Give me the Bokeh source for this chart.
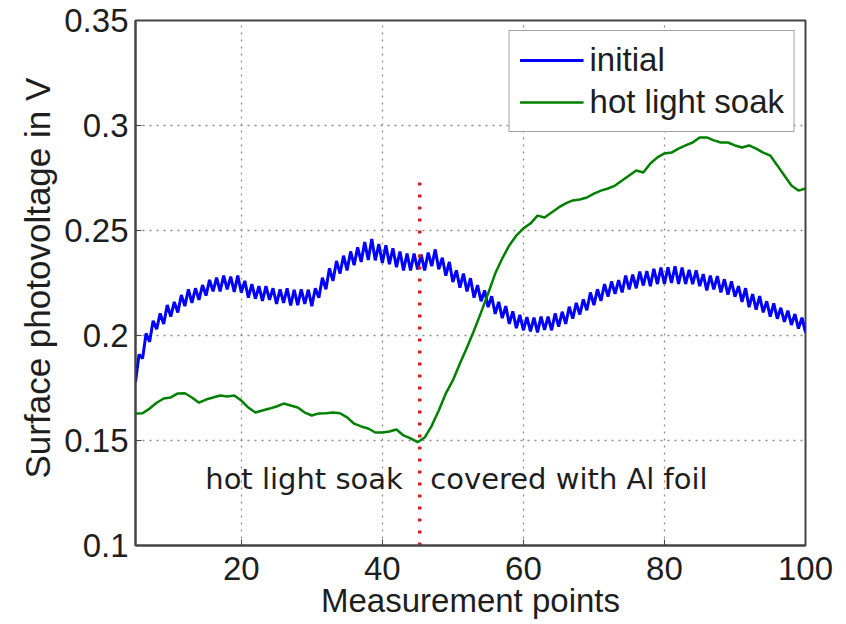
from bokeh.plotting import figure
from bokeh.models import Label, FixedTicker, Title
from bokeh.embed import file_html
from bokeh.resources import INLINE

# ---------------- data ----------------
x_ticks = [20, 40, 60, 80, 100]
y_ticks = [0.1, 0.15, 0.2, 0.25, 0.3, 0.35]
y_tick_labels = ["0.1", "0.15", "0.2", "0.25", "0.3", "0.35"]

# "initial" series, sampled every half measurement point from 5 to 100
blue_start = 5.0
blue_step = 0.5
initial = [
    0.178, 0.191, 0.189, 0.201, 0.197, 0.207, 0.203, 0.2105, 0.2055, 0.2145,
    0.209, 0.216, 0.211, 0.2193, 0.214, 0.222, 0.2155, 0.2225, 0.217, 0.224,
    0.219, 0.2265, 0.221, 0.2275, 0.221, 0.2285, 0.222, 0.228, 0.2208, 0.2285,
    0.2205, 0.226, 0.218, 0.2245, 0.2175, 0.2235, 0.2165, 0.2235, 0.217, 0.2225,
    0.215, 0.222, 0.2155, 0.2225, 0.2143, 0.2218, 0.2145, 0.222, 0.215, 0.2218,
    0.214, 0.2225, 0.218, 0.2275, 0.222, 0.232, 0.226, 0.2355, 0.2295, 0.238,
    0.231, 0.240, 0.2335, 0.242, 0.235, 0.2445, 0.236, 0.246, 0.2358, 0.2435,
    0.2345, 0.243, 0.234, 0.2415, 0.2325, 0.240, 0.231, 0.239, 0.231, 0.239,
    0.2315, 0.2385, 0.231, 0.2395, 0.233, 0.241, 0.2315, 0.237, 0.2285, 0.235,
    0.2255, 0.231, 0.2228, 0.2295, 0.221, 0.2273, 0.218, 0.224, 0.2163, 0.2215,
    0.2135, 0.2187, 0.2103, 0.216, 0.2083, 0.214, 0.2055, 0.2115, 0.2035, 0.2098,
    0.2025, 0.2087, 0.202, 0.2085, 0.2015, 0.209, 0.2027, 0.209, 0.2025, 0.2105,
    0.2042, 0.2113, 0.2055, 0.2137, 0.208, 0.2155, 0.210, 0.2172, 0.212, 0.2205,
    0.2145, 0.222, 0.2165, 0.2245, 0.2185, 0.2257, 0.2198, 0.2264, 0.2205, 0.2285,
    0.222, 0.229, 0.2225, 0.2304, 0.2238, 0.2307, 0.2235, 0.2318, 0.2245, 0.2323,
    0.2245, 0.2325, 0.225, 0.233, 0.2245, 0.2323, 0.2245, 0.2313, 0.2245, 0.231,
    0.2235, 0.2292, 0.2215, 0.2285, 0.222, 0.2283, 0.2205, 0.2268, 0.2195, 0.2258,
    0.2185, 0.2235, 0.216, 0.2225, 0.2135, 0.2197, 0.2123, 0.2188, 0.211, 0.2163,
    0.209, 0.2153, 0.208, 0.2132, 0.2065, 0.2118, 0.205, 0.2102, 0.2033, 0.2085,
    0.2015,
]
initial_x = [blue_start + blue_step * i for i in range(len(initial))]

# "hot light soak" series, measurement points 5..100
soak_x = list(range(5, 101))
soak = [
    0.1629, 0.163, 0.1652, 0.168, 0.170, 0.1705, 0.1724, 0.1725, 0.1705, 0.168,
    0.1695, 0.1705, 0.1714, 0.171, 0.1714, 0.169, 0.1657, 0.1633, 0.1643, 0.1652,
    0.1662, 0.1676, 0.1667, 0.1657, 0.1633, 0.1619, 0.1629, 0.163, 0.1633, 0.163,
    0.161, 0.158, 0.1567, 0.1557, 0.1538, 0.1538, 0.1543, 0.1552, 0.1524, 0.151,
    0.1492, 0.1514, 0.157, 0.1643, 0.1724, 0.1786, 0.1867, 0.1943, 0.2024, 0.211,
    0.220, 0.2295, 0.2367, 0.2429, 0.2476, 0.251, 0.2533, 0.2571, 0.2562, 0.2586,
    0.261, 0.2629, 0.2643, 0.2648, 0.2657, 0.2676, 0.269, 0.270, 0.2714, 0.2738,
    0.2762, 0.2786, 0.2776, 0.2819, 0.2848, 0.2867, 0.2871, 0.289, 0.2905, 0.2919,
    0.2943, 0.2943, 0.2929, 0.2919, 0.2919, 0.2905, 0.2895, 0.2905, 0.289, 0.2871,
    0.2857, 0.281, 0.2762, 0.2714, 0.269, 0.270,
]

divider_x = [45.3, 45.3]
divider_y = [0.1, 0.273]

notes = ["hot light soak", "covered with Al foil"]
notes_x = [28.9, 46.8]
notes_y = [0.1319, 0.1319]

x_title = "Measurement points"
y_title = "Surface photovoltage in V"

# ---------------- figure ----------------
FONT = "Liberation Sans"
TXT = "#1e1e1e"
AXC = "#444444"

p = figure(width=846, height=624, x_range=(5, 100), y_range=(0.1, 0.35),
           output_backend="svg", toolbar_location=None,
           min_border_left=135, min_border_right=41,
           min_border_top=20, min_border_bottom=79)

p.outline_line_color = AXC
p.outline_line_width = 2
p.background_fill_color = "white"

for ax in (p.xaxis[0], p.yaxis[0]):
    ax.major_tick_in = 6
    ax.major_tick_out = 0
    ax.minor_tick_in = 0
    ax.minor_tick_out = 0
    ax.major_tick_line_color = AXC
    ax.axis_line_color = AXC
    ax.axis_line_width = 2
    ax.major_label_text_font = FONT
    ax.major_label_text_font_size = "33px"
    ax.major_label_text_color = TXT

p.xaxis.ticker = FixedTicker(ticks=x_ticks)
p.yaxis.ticker = FixedTicker(ticks=y_ticks)
p.yaxis.major_label_overrides = {t: s for t, s in zip(y_ticks, y_tick_labels)}
p.xaxis.major_label_standoff = 11
p.yaxis.major_label_standoff = 7

p.xaxis.axis_label = x_title
p.xaxis.axis_label_text_font = FONT
p.xaxis.axis_label_text_font_size = "33px"
p.xaxis.axis_label_text_font_style = "normal"
p.xaxis.axis_label_text_color = TXT
p.xaxis.axis_label_text_line_height = 0.8
p.xaxis.axis_label_standoff = -1

ytitle = Title(text=y_title, align="left", offset=67, text_font=FONT,
               text_font_size="35px", text_font_style="normal", text_color=TXT)
p.add_layout(ytitle, "left")

for g in (p.xgrid[0], p.ygrid[0]):
    g.grid_line_color = "#8c8c8c"
    g.grid_line_dash = "2 5"
    g.grid_line_width = 1.3
p.xgrid.ticker = FixedTicker(ticks=x_ticks)
p.ygrid.ticker = FixedTicker(ticks=y_ticks)

# series
p.line(initial_x, initial, line_color="#0000ff", line_width=3, legend_label="initial")
p.line(soak_x, soak, line_color="#008000", line_width=2.5, legend_label="hot light soak")

# divider
p.line(divider_x, divider_y, line_color="#cc2020", line_width=3.5, line_dash="3 9")

# annotations inside the plot
p.add_layout(Label(x=notes_x[0], y=notes_y[0], text=notes[0], text_align="center",
                   text_baseline="middle", text_font="DejaVu Sans", text_font_size="29px",
                   text_color=TXT))
p.add_layout(Label(x=notes_x[1], y=notes_y[1], text=notes[1], text_align="left",
                   text_baseline="middle", text_font="DejaVu Sans", text_font_size="29px",
                   text_color=TXT))

# legend
lg = p.legend[0]
lg.location = "top_right"
lg.margin = 10
lg.label_text_font = FONT
lg.label_text_font_size = "33px"
lg.label_text_color = TXT
lg.glyph_width = 64
lg.glyph_height = 36
lg.label_height = 36
lg.spacing = 4
lg.padding = 10
lg.label_standoff = 6
lg.border_line_color = AXC
lg.border_line_width = 1.5
lg.background_fill_alpha = 1.0

open("out.html", "w").write(file_html(p, INLINE))
